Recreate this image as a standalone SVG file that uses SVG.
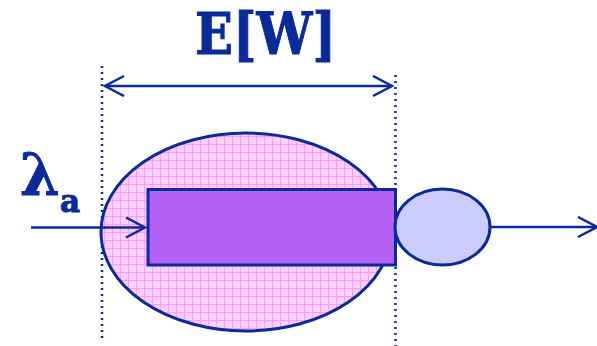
<svg xmlns="http://www.w3.org/2000/svg" width="597" height="346" viewBox="0 0 597 346">
<style>
.ln{stroke:#0a2a9c;fill:none;stroke-width:2.5}
.dot{stroke:#0a2a9c;fill:none;stroke-width:2.5;stroke-dasharray:2 4}
.shape{stroke:#0a2a9c;stroke-width:3}
.lbl{fill:#0a2a9c;stroke:#0a2a9c;stroke-width:1;font-family:"DejaVu Serif","Liberation Serif",serif;font-weight:bold}
</style>
<defs>
<pattern id="grid" width="8" height="8" patternUnits="userSpaceOnUse">
<rect width="8" height="8" fill="#ffd0ff"/>
<path d="M0 0.5H8M0.5 0V8" stroke="#ff99ff" stroke-width="1"/>
</pattern>
<marker id="open" markerWidth="24" markerHeight="24" refX="20" refY="11" orient="auto-start-reverse" markerUnits="userSpaceOnUse">
<path d="M1 1L20 11L1 21" fill="none" stroke="#0a2a9c" stroke-width="2.5"/>
</marker>
</defs>
<g id="dims">
<line class="dot" x1="102" y1="66" x2="102" y2="342"/>
<line class="dot" x1="395.5" y1="75" x2="395.5" y2="346"/>
</g>
<g id="queue">
<ellipse class="shape" cx="246" cy="232" rx="145" ry="99" fill="url(#grid)"/>
</g>
<g id="buffer">
<rect class="shape" x="148" y="189.5" width="247.5" height="75.5" fill="#b560f5"/>
</g>
<g id="server">
<ellipse class="shape" cx="442.5" cy="227" rx="47.5" ry="38" fill="#ccccff"/>
</g>
<g id="connectors">
<line class="ln" x1="105" y1="86" x2="392" y2="86" marker-start="url(#open)" marker-end="url(#open)"/>
<line class="ln" x1="31" y1="227.5" x2="145" y2="227.5" marker-end="url(#open)"/>
<line class="ln" x1="490" y1="227" x2="597" y2="227" marker-end="url(#open)"/>
</g>
<g id="labels">
<text class="lbl" x="195" y="54" font-size="58" textLength="141" lengthAdjust="spacingAndGlyphs">E[W]</text>
<text class="lbl" x="20" y="195" font-size="57">λ<tspan font-size="31" dy="17">a</tspan></text>
</g>
</svg>
